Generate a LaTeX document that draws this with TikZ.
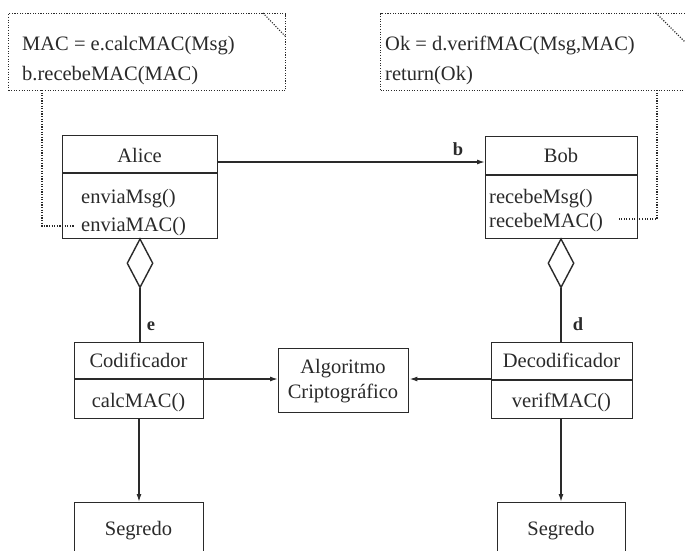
\documentclass[tikz,border=0pt]{standalone}
\usepackage{fontspec}
\setmainfont{Liberation Serif}
\usetikzlibrary{arrows.meta,shapes.geometric}
\definecolor{ink}{HTML}{2A2A2A}
\tikzset{
  umlbox/.style={draw=ink, line width=1.4pt, anchor=north west, inner sep=0pt},
  notebox/.style={draw=ink, line width=1.1pt, dash pattern=on 1.1pt off 1.5pt, anchor=north west, inner sep=0pt},
  txt/.style={text=ink, inner sep=0pt, font=\fontsize{20.5}{23}\selectfont},
  lbl/.style={txt, font=\fontsize{18.5}{20}\selectfont\bfseries},
  divider/.style={draw=ink, line width=1.4pt},
  link/.style={draw=ink, line width=1.4pt},
  arr/.style={link, -{Latex[length=8pt,width=5pt]}},
  noteline/.style={draw=ink, line width=1.1pt, dash pattern=on 1.1pt off 1.5pt},
  agg/.style={diamond, draw=ink, line width=1.4pt, fill=white, inner sep=0pt,
              minimum width=26pt, minimum height=49pt, anchor=north},
}
\begin{document}
\begin{tikzpicture}[x=1pt, y=-1pt]
\fill[white] (0,0) rectangle (685,550);
\clip (0,0) rectangle (685,550);

% notes with folded corner
\node[notebox, minimum width=277pt, minimum height=77pt] (note1) at (8,13) {};
\draw[noteline] (263,13) -- (285,36);
\node[txt, anchor=base west] (n1a) at (22,50) {MAC = e.calcMAC(Msg)};
\node[txt, anchor=base west] (n1b) at (22,80) {b.recebeMAC(MAC)};

\node[notebox, minimum width=310pt, minimum height=77pt] (note2) at (380,13) {};
\draw[noteline] (656,13) -- (690,47);
\node[txt, anchor=base west] (n2a) at (385,50) {Ok = d.verifMAC(Msg,MAC)};
\node[txt, anchor=base west] (n2b) at (385,80) {return(Ok)};

% Alice
\node[umlbox, minimum width=155pt, minimum height=103pt] (alice) at (62,135) {};
\draw[divider] (62,173) -- (217,173);
\node[txt, anchor=base] (aliceT) at (139.5,162) {Alice};
\node[txt, anchor=base west] (aliceM1) at (81,203) {enviaMsg()};
\node[txt, anchor=base west] (aliceM2) at (81,231) {enviaMAC()};

% Bob
\node[umlbox, minimum width=152pt, minimum height=102pt] (bob) at (485,136) {};
\draw[divider] (485,175) -- (637,175);
\node[txt, anchor=base] (bobT) at (561,162) {Bob};
\node[txt, anchor=base west] (bobM1) at (489,203) {recebeMsg()};
\node[txt, anchor=base west] (bobM2) at (489,227) {recebeMAC()};

% association Alice -> Bob
\coordinate (ab1) at (217,162);
\coordinate (ab2) at (485,162);
\draw[arr] (ab1) -- (ab2);
\node[lbl, anchor=base] (lb) at (458,155) {b};

% dotted note links
\coordinate (c1a) at (42,90);
\coordinate (c1b) at (42,226);
\coordinate (c1c) at (75,226);
\draw[noteline] (c1a) -- (c1b) -- (c1c);
\coordinate (c2a) at (657,90);
\coordinate (c2b) at (657,219);
\coordinate (c2c) at (619,219);
\draw[noteline] (c2a) -- (c2b) -- (c2c);

% Codificador
\node[umlbox, minimum width=129pt, minimum height=76pt] (cod) at (74,342) {};
\draw[divider] (74,379) -- (203,379);
\node[txt, anchor=base] (codT) at (138.5,367) {Codificador};
\node[txt, anchor=base] (codM) at (138.5,407) {calcMAC()};

% Decodificador
\node[umlbox, minimum width=141pt, minimum height=76pt] (dec) at (491,342) {};
\draw[divider] (491,380) -- (632,380);
\node[txt, anchor=base] (decT) at (561.5,367) {Decodificador};
\node[txt, anchor=base] (decM) at (561.5,407) {verifMAC()};

% Algoritmo Criptografico
\node[umlbox, minimum width=130pt, minimum height=64pt] (alg) at (278,348) {};
\node[txt, anchor=base] (algT1) at (343,373) {Algoritmo};
\node[txt, anchor=base] (algT2) at (343,398) {Criptográfico};

% aggregations
\node[agg] (dA) at (140,238) {};
\node[agg] (dB) at (561,238) {};
\draw[link] (dA.south) -- (dA.south |- cod.north);
\draw[link] (dB.south) -- (dB.south |- dec.north);
\node[lbl, anchor=base] (le) at (151,330) {e};
\node[lbl, anchor=base] (ld) at (578,330) {d};

% uses of the algorithm
\coordinate (ca) at (203,379);
\draw[arr] (ca) -- (ca -| alg.west);
\coordinate (da) at (491,379);
\draw[arr] (da) -- (da -| alg.east);

% Segredo
\node[umlbox, minimum width=129pt, minimum height=70pt] (segA) at (74,502) {};
\node[txt, anchor=base] (segAT) at (138.5,535) {Segredo};
\node[umlbox, minimum width=128pt, minimum height=70pt] (segB) at (497,502) {};
\node[txt, anchor=base] (segBT) at (561,535) {Segredo};
\draw[arr] (cod.south -| 139,0) -- (139,502);
\draw[arr] (dec.south -| 561,0) -- (561,502);
\end{tikzpicture}
\end{document}
